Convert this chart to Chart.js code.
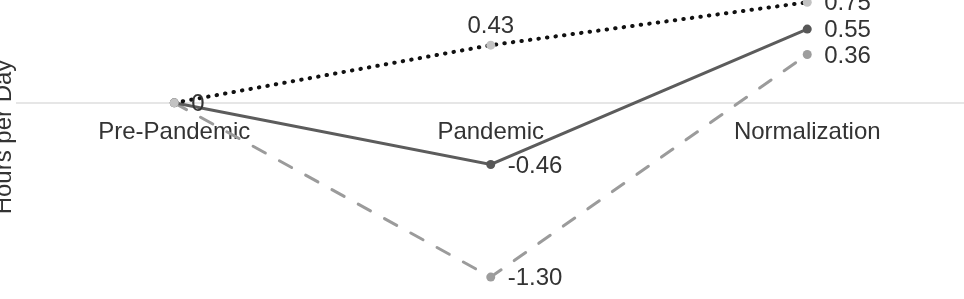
<!DOCTYPE html>
<html>
<head>
<meta charset="utf-8">
<script src="https://cdn.jsdelivr.net/npm/chart.js@4.4.1/dist/chart.umd.min.js"></script>
<style>
  html, body { margin: 0; padding: 0; background: #fff; }
  #wrap { position: relative; width: 964px; height: 299px; overflow: hidden; }
  #box { position: absolute; left: -8px; top: -21px; width: 978px; height: 316px; }
</style>
</head>
<body>
<div id="wrap"><div id="box"><canvas id="hoursChart"></canvas></div></div>
<script>
const periods = ["Pre-Pandemic", "Pandemic", "Normalization"];
const dottedValues = [0, 0.43, 0.75];
const solidValues = [0, -0.46, 0.55];
const dashedValues = [0, -1.30, 0.36];
const axisTitle = "Hours per Day";

const fontFamily = "'Liberation Sans', Arial, sans-serif";
Chart.defaults.font.family = fontFamily;

// draws the value next to each point (no datalabels plugin available offline)
const pointLabels = {
  id: "pointLabels",
  afterDatasetsDraw(chart) {
    const ctx = chart.ctx;
    const seen = new Set();
    ctx.save();
    ctx.font = "24px " + fontFamily;
    ctx.fillStyle = "#333";
    chart.data.datasets.forEach((ds, di) => {
      const meta = chart.getDatasetMeta(di);
      meta.data.forEach((pt, i) => {
        const v = ds.data[i];
        const text = v === 0 ? "0" : v.toFixed(2);
        const key = text + "_" + Math.round(pt.x) + "_" + Math.round(pt.y);
        if (seen.has(key)) return;
        seen.add(key);
        if (ds.labelAbove && ds.labelAbove[i]) {
          ctx.textAlign = "center";
          ctx.textBaseline = "alphabetic";
          ctx.fillText(text, pt.x, pt.y - 12);
        } else {
          ctx.textAlign = "left";
          ctx.textBaseline = "middle";
          ctx.fillText(text, pt.x + 17, pt.y + 1.5);
        }
      });
    });
    ctx.restore();
  }
};

new Chart(document.getElementById("hoursChart"), {
  type: "line",
  data: {
    labels: periods,
    datasets: [
      {
        label: "Dotted",
        data: dottedValues,
        borderColor: "#111",
        borderWidth: 4,
        borderDash: [0.5, 8.1],
        borderCapStyle: "round",
        pointRadius: 4.5,
        pointBorderWidth: 0,
        pointBackgroundColor: "#c2c2c2",
        labelAbove: [false, true, false],
      },
      {
        label: "Solid",
        data: solidValues,
        borderColor: "#5c5c5c",
        borderWidth: 3,
        pointRadius: 4.5,
        pointBorderWidth: 0,
        pointBackgroundColor: "#575757",
      },
      {
        label: "Dashed",
        data: dashedValues,
        borderColor: "#9b9b9b",
        borderWidth: 3,
        borderDash: [14, 16],
        borderCapStyle: "round",
        pointRadius: 4.5,
        pointBorderWidth: 0,
        pointBackgroundColor: "#9d9d9d",
      },
    ],
  },
  options: {
    responsive: true,
    maintainAspectRatio: false,
    animation: false,
    layout: { padding: 0 },
    plugins: {
      legend: { display: false },
      tooltip: { enabled: false },
    },
    scales: {
      x: {
        type: "category",
        offset: true,
        position: { y: 0 },
        grid: { display: false, drawTicks: false },
        border: { display: false },
        ticks: {
          color: "#333",
          font: { size: 24 },
          padding: 15,
          maxRotation: 0,
          autoSkip: false,
        },
      },
      y: {
        min: -1.4,
        max: 0.89,
        afterBuildTicks: scale => { scale.ticks = [{ value: 0 }]; },
        ticks: { display: false },
        grid: { color: "#e6e6e6", lineWidth: 2, drawTicks: false },
        border: { display: false },
        title: {
          display: true,
          text: axisTitle,
          color: "#333",
          font: { size: 24, lineHeight: 1 },
          padding: 0,
        },
      },
    },
  },
  plugins: [pointLabels],
});
</script>
</body>
</html>
